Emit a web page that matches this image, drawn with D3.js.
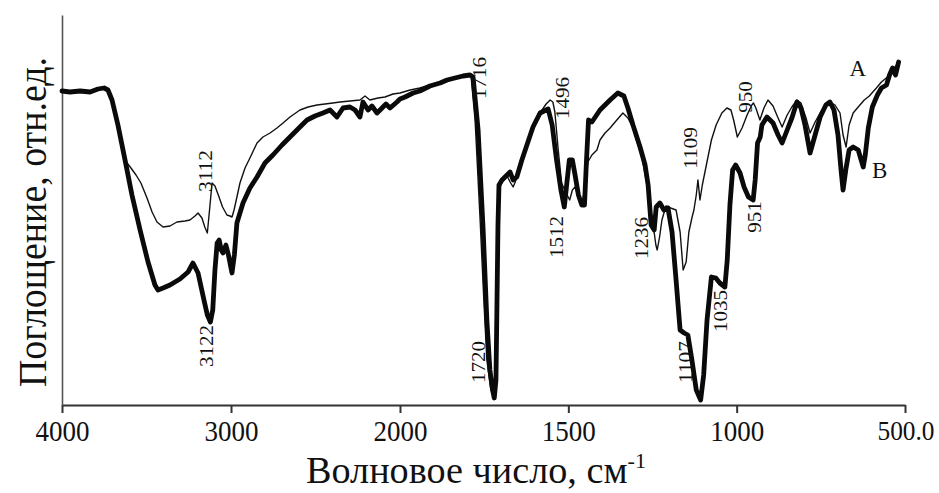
<!DOCTYPE html>
<html>
<head>
<meta charset="utf-8">
<script src="https://cdn.jsdelivr.net/npm/d3@7/dist/d3.min.js"></script>
<style>
  html, body { margin: 0; padding: 0; background: #fff; }
  svg { display: block; }
  text { font-family: "Liberation Serif", "Times New Roman", serif; fill: #111; }
</style>
</head>
<body>
<svg id="chart" width="939" height="493"></svg>
<script>
// IR spectra: wavenumber (cm-1) vs absorbance (relative units)
const xTicks = [4000, 3000, 2000, 1500, 1000, 500];

// Spectrum A (thin line)
const spectrumA = [
  [4000,315],[3953,314],[3893,315],[3834,314],[3787,317],[3751,318],[3728,316],[3704,305],
  [3669,280],[3639,250],[3615,242],[3592,237],[3562,230],[3533,222],[3497,207],[3467,193],
  [3438,183],[3402,178],[3361,179],[3320,183],[3272,184],[3243,185],[3213,189],[3195,192],
  [3172,187],[3155,178],[3140,172],[3127,195],[3112,222],[3095,219],[3075,210],[3050,198],
  [3024,190],[3006,189],[2994,188],[2982,195],[2965,208],[2947,222],[2917,237],[2888,247],
  [2846,262],[2811,268],[2769,272],[2728,277],[2692,282],[2651,288],[2592,295],[2544,298],
  [2491,300],[2444,301],[2397,302],[2355,303],[2296,304],[2237,305],[2207,309],[2178,305],
  [2130,307],[2089,308],[2041,311],[2000,312],[1970,315],[1941,317],[1911,320],[1881,323],
  [1851,325],[1822,328],[1798,330],[1789,329],[1777,285],[1762,185],[1751,105],[1742,45],
  [1730,15],[1722,10],[1716,12],[1712,50],[1709,150],[1706,215],[1697,223],[1682,229],
  [1673,223],[1664,218],[1653,227],[1638,245],[1623,262],[1605,278],[1584,292],[1566,301],
  [1554,305],[1546,303],[1540,293],[1530,255],[1520,222],[1508,213],[1496,205],[1488,215],
  [1480,218],[1470,208],[1460,200],[1452,215],[1442,243],[1430,250],[1415,255],[1406,265],
  [1391,272],[1376,277],[1356,285],[1338,292],[1323,287],[1308,277],[1293,260],[1281,247],
  [1269,225],[1257,200],[1248,180],[1240,160],[1236,155],[1229,168],[1222,185],[1210,199],
  [1196,197],[1180,195],[1168,173],[1159,135],[1150,143],[1142,173],[1133,187],[1127,195],
  [1120,210],[1115,225],[1109,205],[1102,220],[1090,240],[1075,265],[1061,280],[1044,292],
  [1029,297],[1017,295],[1009,285],[998,268],[984,277],[969,290],[955,300],[950,302],
  [943,297],[931,285],[919,297],[907,305],[892,299],[877,287],[865,278],[850,290],
  [836,298],[821,305],[809,302],[794,287],[782,272],[767,283],[752,292],[735,301],
  [723,303],[708,300],[693,292],[684,270],[675,258],[666,280],[654,292],[639,298],
  [621,305],[606,309],[585,317],[570,323],[552,328],[537,335],[525,340]
];

// Spectrum B (thick line)
const spectrumB = [
  [4000,314],[3953,313],[3893,314],[3834,313],[3787,316],[3751,317],[3728,315],[3704,305],
  [3669,280],[3627,245],[3586,210],[3538,175],[3491,143],[3450,120],[3432,115],[3402,117],
  [3361,120],[3302,126],[3254,133],[3225,142],[3195,132],[3160,105],[3140,90],[3122,83],
  [3108,95],[3095,135],[3082,162],[3070,165],[3058,155],[3047,152],[3030,160],[3015,150],
  [3000,137],[2994,132],[2980,150],[2965,182],[2929,202],[2888,217],[2846,228],[2799,242],
  [2752,250],[2698,260],[2651,268],[2592,278],[2550,285],[2503,289],[2456,292],[2414,295],
  [2373,288],[2337,297],[2296,298],[2266,295],[2237,288],[2219,303],[2189,295],[2166,299],
  [2136,292],[2118,295],[2083,301],[2059,297],[2018,303],[2000,306],[1985,308],[1961,312],
  [1941,314],[1911,319],[1881,322],[1860,325],[1837,327],[1813,329],[1792,330],[1783,328],
  [1768,275],[1753,175],[1742,85],[1733,35],[1725,15],[1720,7],[1715,25],[1712,100],
  [1709,180],[1706,220],[1697,225],[1682,230],[1673,233],[1664,225],[1653,228],[1638,245],
  [1623,260],[1605,278],[1584,292],[1560,296],[1548,280],[1535,245],[1522,215],[1512,198],
  [1505,220],[1497,245],[1488,245],[1480,230],[1470,210],[1460,200],[1452,200],[1446,245],
  [1440,285],[1430,283],[1406,295],[1376,305],[1353,312],[1335,309],[1323,297],[1308,280],
  [1287,258],[1272,240],[1263,220],[1254,180],[1245,175],[1239,198],[1228,202],[1216,195],
  [1204,197],[1192,173],[1180,125],[1168,75],[1156,72],[1145,70],[1133,45],[1120,15],
  [1107,5],[1098,30],[1088,85],[1075,128],[1062,127],[1050,122],[1035,118],[1028,145],
  [1020,200],[1012,235],[1003,240],[990,232],[978,218],[965,208],[951,205],[945,225],
  [938,262],[930,268],[925,280],[910,288],[892,282],[877,270],[865,262],[850,275],
  [836,287],[821,303],[809,297],[797,280],[782,252],[767,270],[752,288],[735,300],
  [723,303],[711,295],[699,270],[690,235],[684,215],[675,237],[666,255],[654,258],
  [639,255],[624,238],[618,250],[609,277],[597,298],[582,310],[570,317],[555,320],
  [546,330],[537,337],[528,330],[519,343]
];

// Band assignments marked on the spectra
const bandLabels = [
  { wn: 3122, series: "B" }, { wn: 3112, series: "A" },
  { wn: 1720, series: "B" }, { wn: 1716, series: "A" },
  { wn: 1512, series: "B" }, { wn: 1496, series: "A" },
  { wn: 1236, series: "A" }, { wn: 1109, series: "A" },
  { wn: 1107, series: "B" }, { wn: 1035, series: "B" },
  { wn: 951, series: "B" },  { wn: 950, series: "A" }
];

const seriesNames = ["A", "B"];

// --- layout ---
const svg = d3.select("#chart");
const plot = { left: 62, right: 905, top: 15, bottom: 405 };

// The wavenumber axis is stretched 2x below 2000 cm-1
const x = d3.scaleLinear()
  .domain([4000, 2000, 500])
  .range([plot.left, 400, plot.right]);
const y = d3.scaleLinear()
  .domain([0, 390])
  .range([plot.bottom, plot.top]);

const line = d3.line()
  .x(d => x(d[0]))
  .y(d => y(d[1]))
  .curve(d3.curveLinear);

const seriesData = { A: spectrumA, B: spectrumB };

// offsets of each band label from its band position (px)
const labelOffset = {
  3122: [-4, 24], 3112: [-6, -12], 1720: [-16, -36], 1716: [-16, -315],
  1512: [-8, 30], 1496: [-7, -102], 1236: [-16, -12], 1109: [-9, -52],
  1107: [-15, -38], 1035: [-4, 24], 951: [2, 17], 950: [-8, -6]
};

// axes
const xAxis = d3.axisBottom(x)
  .tickValues(xTicks)
  .tickSize(8)
  .tickSizeOuter(0)
  .tickFormat(d => d === 500 ? "500.0" : String(d));

const gx = svg.append("g")
  .attr("transform", `translate(0,${plot.bottom})`)
  .call(xAxis);
gx.select(".domain").attr("stroke", "#333").attr("stroke-width", 2.2);
gx.selectAll(".tick line").attr("stroke", "#333").attr("stroke-width", 2);
gx.selectAll(".tick text")
  .attr("y", 15)
  .attr("dy", "0.71em")
  .style("font-size", "30px")
  .attr("textLength", 54)
  .attr("lengthAdjust", "spacingAndGlyphs");
// the last label sits against the right edge
gx.selectAll(".tick text")
  .filter(d => d === 500)
  .attr("text-anchor", "end")
  .attr("x", 29)
  .style("font-size", "28px")
  .attr("textLength", 57);

const gy = svg.append("g")
  .attr("transform", `translate(${plot.left},0)`)
  .call(d3.axisLeft(y).tickValues([]).tickSizeOuter(0));
gy.select(".domain").attr("stroke", "#555").attr("stroke-width", 1.6);

// spectra
svg.append("path")
  .datum(spectrumA)
  .attr("d", line)
  .attr("fill", "none")
  .attr("stroke", "#111")
  .attr("stroke-width", 1.4)
  .attr("stroke-linejoin", "round");

svg.append("path")
  .datum(spectrumB)
  .attr("d", line)
  .attr("fill", "none")
  .attr("stroke", "#0a0a0a")
  .attr("stroke-width", 4.8)
  .attr("stroke-linejoin", "round")
  .attr("stroke-linecap", "round");

// band labels, vertical text
svg.append("g").selectAll("text")
  .data(bandLabels)
  .join("text")
  .attr("transform", d => {
    const pt = seriesData[d.series].find(p => p[0] === d.wn);
    const [dx, dy] = labelOffset[d.wn];
    return `translate(${x(d.wn) + dx},${y(pt[1]) + dy}) rotate(-90)`;
  })
  .attr("text-anchor", "middle")
  .attr("dy", "0.35em")
  .style("font-size", "18px")
  .attr("textLength", d => String(d.wn).length * 10.5)
  .attr("lengthAdjust", "spacingAndGlyphs")
  .text(d => d.wn);

// series names
const nameAt = { A: [640, 337], B: [575, 235] };
svg.append("g").selectAll("text")
  .data(seriesNames)
  .join("text")
  .attr("x", d => x(nameAt[d][0]))
  .attr("y", d => y(nameAt[d][1]))
  .attr("text-anchor", "middle")
  .attr("dy", "0.35em")
  .style("font-size", "23px")
  .text(d => d);

// axis titles
const xt = svg.append("text")
  .attr("x", 476)
  .attr("y", 483)
  .attr("text-anchor", "middle")
  .style("font-size", "38px")
  .attr("textLength", 340)
  .attr("lengthAdjust", "spacingAndGlyphs");
xt.append("tspan").text("Волновое число, см");
xt.append("tspan").attr("dy", -15).style("font-size", "22px").text("-1");

svg.append("text")
  .attr("transform", `translate(46,${(plot.top + plot.bottom) / 2 + 12}) rotate(-90)`)
  .attr("text-anchor", "middle")
  .style("font-size", "40px")
  .attr("textLength", 330)
  .attr("lengthAdjust", "spacingAndGlyphs")
  .text("Поглощение, отн.ед.");
</script>
</body>
</html>
